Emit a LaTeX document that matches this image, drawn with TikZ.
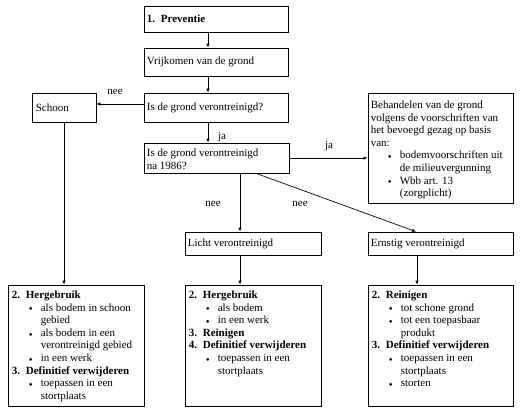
\documentclass[tikz,border=0pt]{standalone}
\usepackage{fontspec}
\setmainfont{Liberation Serif}
\usetikzlibrary{arrows.meta,calc}
\newcommand\hdg[2]{\makebox[14pt][l]{\textbf{#1}}\textbf{#2}}
\newcommand\blt[1]{\hspace*{17pt}\makebox[12pt][l]{\raisebox{-1.8pt}{\textbullet}}#1}
\newcommand\cnt[1]{\hspace*{29pt}#1}
\begin{document}
\begin{tikzpicture}[x=1pt,y=-1pt,
  font=\fontsize{11}{12.6}\selectfont,
  box/.style={draw=black,line width=0.7pt,rectangle,inner sep=0pt},
  txt/.style={inner sep=0pt,align=left},
  lbl/.style={inner sep=1pt},
  arr/.style={draw=black,line width=0.7pt,-{Latex[length=4pt,width=3.5pt]}}]
\useasboundingbox (0,0) rectangle (524,414);
\fill[white] (0,0) rectangle (524,414);
% boxes
\node[box,minimum width=144,minimum height=26] (prev) at (216,19) {};
\node[box,minimum width=144,minimum height=28] (vrij) at (216,62) {};
\node[box,minimum width=144,minimum height=29] (isv) at (216,107.5) {};
\node[box,minimum width=64,minimum height=29] (schoon) at (64,107.5) {};
\node[box,minimum width=145,minimum height=30] (na86) at (216.5,158) {};
\node[box,minimum width=145,minimum height=110] (beh) at (440.5,148) {};
\node[box,minimum width=136,minimum height=23] (licht) at (253,243.5) {};
\node[box,minimum width=145,minimum height=23] (ernstig) at (440.5,243.5) {};
\node[box,minimum width=136,minimum height=121] (b1) at (76,345.5) {};
\node[box,minimum width=136,minimum height=121] (b2) at (253,345.5) {};
\node[box,minimum width=145,minimum height=121] (b3) at (440.5,345.5) {};
% texts
\node[txt,anchor=west] (prev-t) at ($(prev.west)+(3,0)$) {\hdg{1.}{Preventie}};
\node[txt,anchor=west] (vrij-t) at ($(vrij.west)+(3,0)$) {Vrijkomen van de grond};
\node[txt,anchor=west] (isv-t) at ($(isv.west)+(3,0)$) {Is de grond verontreinigd?};
\node[txt,anchor=west] (schoon-t) at ($(schoon.west)+(4,0)$) {Schoon};
\node[txt,anchor=west] (na86-t) at ($(na86.west)+(3,1)$) {Is de grond verontreinigd\\na 1986?};
\node[txt,anchor=west] (beh-t) at ($(beh.west)+(3,2)$) {Behandelen van de grond\\volgens de voorschriften van\\het bevoegd gezag op basis\\van:\\\blt{bodemvoorschriften uit}\\\cnt{de milieuvergunning}\\\blt{Wbb art. 13}\\\cnt{(zorgplicht)}};
\node[txt,anchor=west] (licht-t) at ($(licht.west)+(3,0)$) {Licht verontreinigd};
\node[txt,anchor=west] (ernstig-t) at ($(ernstig.west)+(3,0)$) {Ernstig verontreinigd};
\node[txt,anchor=north west] (b1-t) at ($(b1.north west)+(4,6)$) {\hdg{2.}{Hergebruik}\\\blt{als bodem in schoon}\\\cnt{gebied}\\\blt{als bodem in een}\\\cnt{verontreinigd gebied}\\\blt{in een werk}\\\hdg{3.}{Definitief verwijderen}\\\blt{toepassen in een}\\\cnt{stortplaats}};
\node[txt,anchor=north west] (b2-t) at ($(b2.north west)+(4,6)$) {\hdg{2.}{Hergebruik}\\\blt{als bodem}\\\blt{in een werk}\\\hdg{3.}{Reinigen}\\\hdg{4.}{Definitief verwijderen}\\\blt{toepassen in een}\\\cnt{stortplaats}};
\node[txt,anchor=north west] (b3-t) at ($(b3.north west)+(4,6)$) {\hdg{2.}{Reinigen}\\\blt{tot schone grond}\\\blt{tot een toepasbaar}\\\cnt{produkt}\\\hdg{3.}{Definitief verwijderen}\\\blt{toepassen in een}\\\cnt{stortplaats}\\\blt{storten}};
% helper coordinates
\coordinate (sx) at (208,0);
\coordinate (ya) at (0,104);
\coordinate (xb) at (240,0);
\coordinate (xd) at (256,0);
\coordinate (xe) at (416,0);
\coordinate (xf) at (417,0);
% connectors
\draw[arr] (prev.south -| sx) -- (vrij.north -| sx);
\draw[arr] (vrij.south -| sx) -- (isv.north -| sx);
\draw[arr] (isv.south -| sx) -- (na86.north -| sx);
\draw[arr] (isv.west |- ya) -- (schoon.east |- ya);
\draw[arr] (na86.east) -- (beh.west |- na86.east);
\draw[arr] (na86.south -| xb) -- (licht.north -| xb);
\draw[arr] (na86.south -| xd) -- (ernstig.north -| xe);
\draw[arr] (schoon.south) -- (b1.north -| schoon.south);
\draw[arr] (licht.south -| xb) -- (b2.north -| xb);
\draw[arr] (ernstig.south -| xf) -- (b3.north -| xf);
% labels
\node[lbl] (l-nee1) at (115,92) {nee};
\node[lbl] (l-ja1) at (222,137) {ja};
\node[lbl] (l-ja2) at (329,146) {ja};
\node[lbl] (l-nee2) at (213,204) {nee};
\node[lbl] (l-nee3) at (300,204) {nee};
\end{tikzpicture}
\end{document}
